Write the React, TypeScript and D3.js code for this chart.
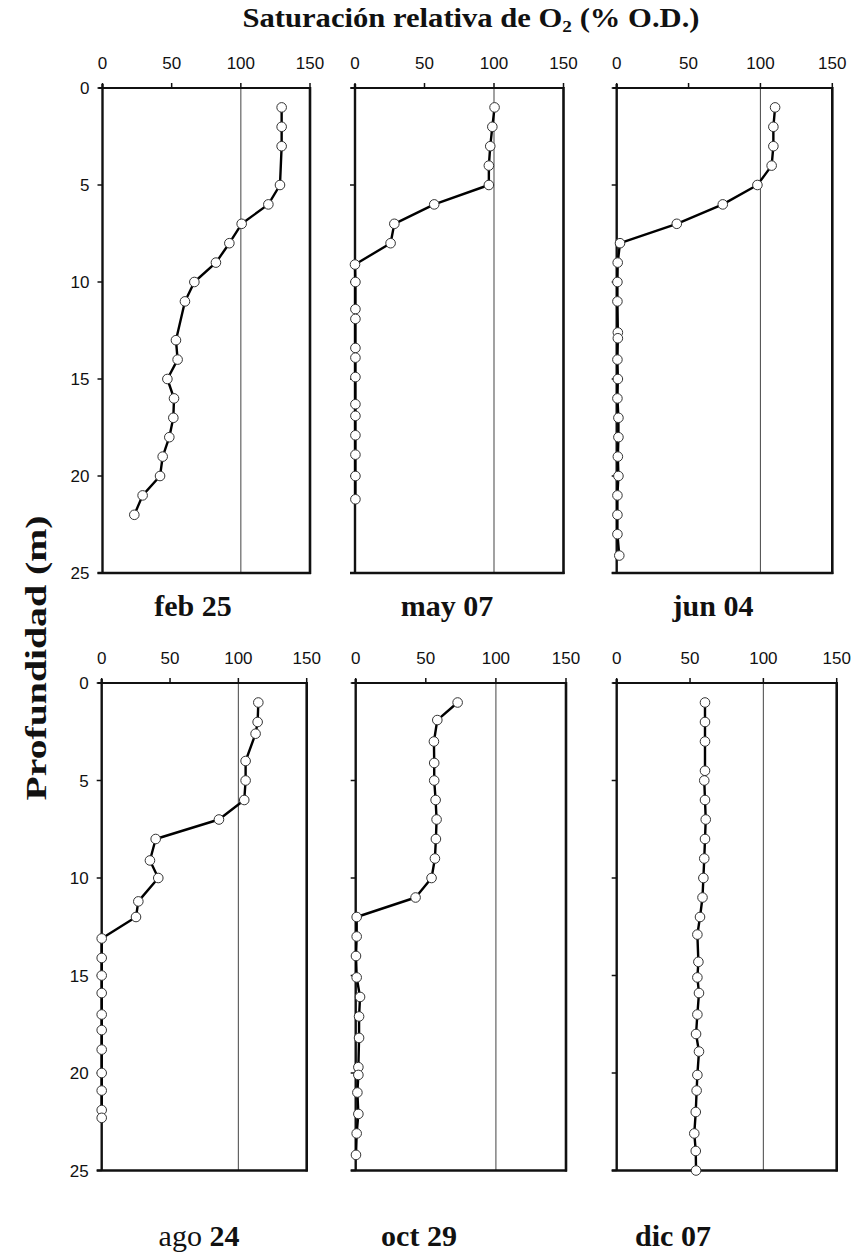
import React from 'react';
import * as d3 from 'd3';

// ---- data ----
const xTicks = [0, 50, 100, 150];
const yTicks = [0, 5, 10, 15, 20, 25];
const panelNames = ['feb 25', 'may 07', 'jun 04', 'ago 24', 'oct 29', 'dic 07'];

const febDepth = [1, 2, 3, 5, 6, 7, 8, 9, 10, 11, 13, 14, 15, 16, 17, 18, 19, 20, 21, 22];
const febSat = [129.5, 129.5, 129.5, 128.3, 119.9, 100.6, 91.7, 82, 66.4, 59.6, 53.1, 54.3, 46.9, 51.7, 51.2, 48.3, 43.5, 41.6, 29, 23];

const mayDepth = [1, 2, 3, 4, 5, 6, 7, 8, 9.1, 10, 11.4, 11.9, 13.4, 13.9, 14.9, 16.3, 16.9, 17.9, 18.9, 20, 21.2];
const maySat = [100.4, 98.8, 97.3, 96.3, 96.3, 57, 28.3, 25.6, 0, 0.3, 0.3, 0.3, 0.3, 0.3, 0.3, 0.3, 0.3, 0.3, 0.3, 0.3, 0.3];

const junDepth = [1, 2, 3, 4, 5, 6, 7, 8, 9, 10, 11, 12.6, 12.9, 14, 15, 16, 17, 18, 19, 20, 21, 22, 23, 24.1];
const junSat = [110.2, 109, 109, 107.8, 97.9, 73.8, 41.8, 2.3, 0.7, 0.5, 0.5, 0.8, 0.8, 0.5, 0.8, 0.5, 1.2, 1.2, 0.8, 1.2, 0.5, 0.5, 0.5, 1.8];

const agoDepth = [1, 2, 2.6, 4, 5, 6, 7, 8, 9.1, 10, 11.2, 12, 13.1, 14.1, 15, 15.9, 17, 17.8, 18.8, 20, 20.9, 21.9, 22.3];
const agoSat = [114.6, 114.1, 112.6, 105.3, 105.3, 104.3, 85.8, 39.5, 35.3, 41.4, 26.8, 25.1, 0, 0, 0, 0, 0, 0, 0, 0, 0, 0, 0];

const octDepth = [1, 1.9, 3, 4.1, 5, 6, 7, 8, 9, 10, 11, 12, 13, 14, 15.1, 16.1, 17.1, 18.2, 19.7, 20.1, 21, 22.1, 23.1, 24.2];
const octSat = [72.7, 58.2, 55.8, 56, 56, 57, 57.7, 57.2, 56.5, 54.1, 42.7, 0.7, 0.7, 0.2, 0.7, 3.1, 2.4, 2.4, 1.9, 1.9, 1.2, 1.9, 0.7, 0.2];

const dicDepth = [1, 2, 3, 4.5, 5, 6, 7, 8, 9, 10, 11, 12, 12.9, 14.3, 15.1, 15.9, 17, 18, 18.9, 20.1, 20.9, 22, 23.1, 24, 25];
const dicSat = [60.2, 60.2, 60.2, 60.2, 59.7, 60.2, 60.7, 60.2, 59.7, 59.1, 58.5, 56.8, 55, 55.7, 55, 56.1, 55, 54.1, 56.1, 55, 54.5, 53.9, 52.9, 53.9, 54.1];

const depths = [febDepth, mayDepth, junDepth, agoDepth, octDepth, dicDepth];
const sats = [febSat, maySat, junSat, agoSat, octSat, dicSat];

// ---- layout ----
const W = 856;
const H = 1254;
const rowBox = [[88, 573], [683, 1170.5]];
const colBox = [
  [102.5, 310], [355, 563.5], [616.7, 832.3],
  [101.7, 306.7], [355.7, 566], [616.7, 836.7],
];
const labelX = [193, 447, 713, 199, 419, 673];
const labelY = [616, 616, 616, 1246, 1246, 1246];

const serif = '"Liberation Serif", "Times New Roman", serif';
const sans = '"Liberation Sans", Arial, sans-serif';

function Panel({ i }: { i: number }) {
  const row = i < 3 ? 0 : 1;
  const [x0, x1] = colBox[i];
  const [y0, y1] = rowBox[row];
  const x = d3.scaleLinear().domain([0, 150]).range([x0, x1]);
  const y = d3.scaleLinear().domain([0, 25]).range([y0, y1]);
  const pts = depths[i].map((d, k) => [sats[i][k], d] as [number, number]);
  const line = d3.line<[number, number]>().x((p) => x(p[0])).y((p) => y(p[1]));
  const showY = i === 0 || i === 3;
  const name = panelNames[i];
  const [w1, w2] = name.split(' ');
  return (
    <g>
      {/* 100% reference */}
      <line x1={x(100)} x2={x(100)} y1={y0} y2={y1} stroke="#555" strokeWidth={1.1} />
      {/* frame */}
      <line x1={x0 - 4} x2={x1} y1={y0} y2={y0} stroke="#111" strokeWidth={2.2} />
      <line x1={x0} x2={x0} y1={y0 - 4} y2={y1} stroke="#111" strokeWidth={2.4} />
      <line x1={x1} x2={x1} y1={y0 - 1} y2={y1 + 1} stroke="#111" strokeWidth={2.6} />
      <line x1={x0 - 5} x2={x1 + 1} y1={y1} y2={y1} stroke="#111" strokeWidth={2.4} />
      {/* x ticks */}
      {xTicks.map((t) => (
        <g key={'xt' + t}>
          <line x1={x(t)} x2={x(t)} y1={y0} y2={y0 - 5} stroke="#111" strokeWidth={1.5} />
          <text x={x(t)} y={y0 - 19} textAnchor="middle" fontFamily={sans} fontSize={17} fill="#111">{t}</text>
        </g>
      ))}
      {/* y ticks */}
      {yTicks.map((t) => (
        <g key={'yt' + t}>
          <line x1={x0} x2={x0 - 5} y1={y(t)} y2={y(t)} stroke="#111" strokeWidth={1.5} />
          {showY && (
            <text x={x0 - 13} y={y(t) + 6} textAnchor="end" fontFamily={sans} fontSize={17} fill="#111">{t}</text>
          )}
        </g>
      ))}
      {/* profile */}
      <path d={line(pts) || ''} fill="none" stroke="#000" strokeWidth={2.4} strokeLinejoin="round" />
      {pts.map((p, k) => (
        <circle key={k} cx={x(p[0])} cy={y(p[1])} r={4.8} fill="#fff" stroke="#333" strokeWidth={1} />
      ))}
      {/* label */}
      <text x={labelX[i]} y={labelY[i]} textAnchor="middle" fontFamily={serif} fontSize={30} fill="#111" fontWeight="bold">
        {i === 3 ? (
          <>
            <tspan fontWeight="normal">{w1}</tspan> <tspan>{w2}</tspan>
          </>
        ) : (
          name
        )}
      </text>
    </g>
  );
}

export default function App() {
  return (
    <svg width={W} height={H} viewBox={`0 0 ${W} ${H}`} style={{ position: 'absolute', left: 0, top: 0, background: '#fff' }}>
      <rect x={0} y={0} width={W} height={H} fill="#fff" />
      <text x={471} y={27} textAnchor="middle" fontFamily={serif} fontWeight="bold" fontSize={27} fill="#111"
        textLength={457} lengthAdjust="spacingAndGlyphs">
        Saturación relativa de O<tspan fontSize={17} dy={5}>2</tspan><tspan dy={-5}> (% O.D.)</tspan>
      </text>
      <text transform="translate(46,658) rotate(-90)" textAnchor="middle" fontFamily={serif} fontWeight="bold" fontSize={30}
        fill="#111" textLength={285} lengthAdjust="spacingAndGlyphs">
        Profundidad (m)
      </text>
      {panelNames.map((_, i) => (
        <Panel key={i} i={i} />
      ))}
    </svg>
  );
}
